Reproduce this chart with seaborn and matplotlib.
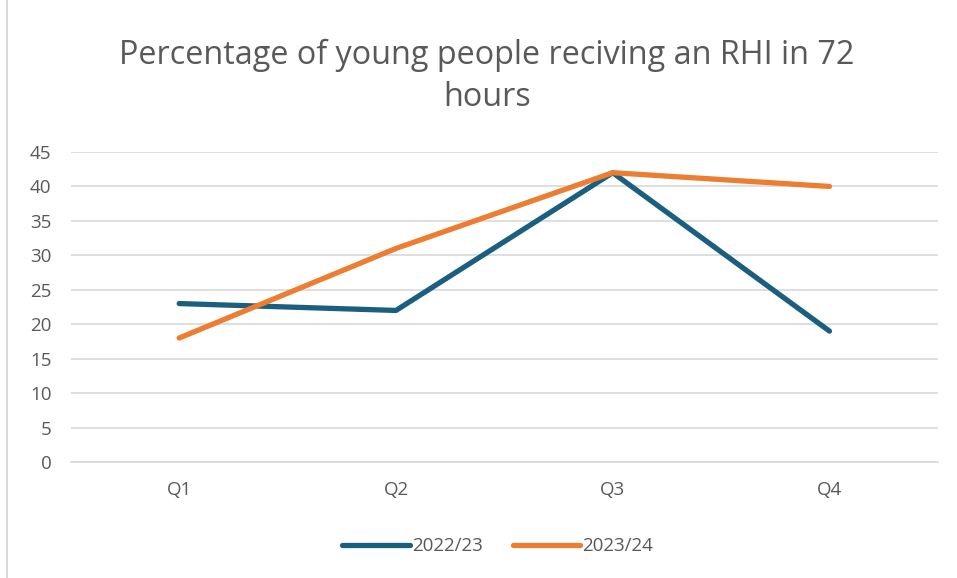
import matplotlib
matplotlib.use("Agg")
import matplotlib.pyplot as plt
import seaborn as sns
import pandas as pd
from matplotlib.lines import Line2D

quarters = ["Q1", "Q2", "Q3", "Q4"]
series_2223 = [23, 22, 42, 19]
series_2324 = [18, 31, 42, 40]
series_names = ["2022/23", "2023/24"]
yticks = [0, 5, 10, 15, 20, 25, 30, 35, 40, 45]

df = pd.DataFrame({
    "Quarter": quarters * 2,
    "Value": series_2223 + series_2324,
    "Series": [series_names[0]] * 4 + [series_names[1]] * 4,
})

sns.set_theme(style="white")
plt.rcParams["font.family"] = ["Open Sans", "DejaVu Sans"]

fig = plt.figure(figsize=(9.57, 5.78), dpi=100)
ax = fig.add_axes([0.074, 0.2007, 0.906, 0.5363])

palette = {"2022/23": "#1B5F80", "2023/24": "#ED7D31"}
sns.lineplot(data=df, x="Quarter", y="Value", hue="Series", palette=palette,
             linewidth=3.8, sort=False, ax=ax, legend=False)
for l in ax.lines:
    l.set_solid_capstyle("round")
    l.set_solid_joinstyle("round")

ax.set_xlim(-0.5, 3.5)
ax.set_ylim(0, 45)
ax.set_yticks(yticks)
ax.set_xlabel("")
ax.set_ylabel("")
ax.grid(axis="y", color="#D9D9D9", linewidth=1.2)
ax.set_axisbelow(True)
for s in ["top", "right", "left"]:
    ax.spines[s].set_visible(False)
ax.spines["bottom"].set_color("#D9D9D9")
ax.spines["bottom"].set_linewidth(1.2)
ax.tick_params(axis="both", colors="#595959", labelsize=13.5, length=0)
ax.tick_params(axis="x", pad=14)
ax.tick_params(axis="y", pad=14)

fig.text(0.509, 0.868, "Percentage of young people reciving an RHI in 72\nhours",
         ha="center", va="center", fontsize=23.3, color="#595959", linespacing=1.38)

handles = [Line2D([0], [0], color=palette[n], lw=3.8, solid_capstyle="round") for n in series_names]
fig.legend(handles, series_names, loc="center", bbox_to_anchor=(0.52, 0.055), ncol=2,
           frameon=False, fontsize=13.5, labelcolor="#595959", handlelength=3.6,
           handletextpad=0.1, columnspacing=1.6)

fig.add_artist(plt.Rectangle((0.007, -0.01), 1.1, 1.1, transform=fig.transFigure,
                             fill=False, edgecolor="#D9D9D9", linewidth=1.5))

fig.savefig("out.png", dpi=100)
